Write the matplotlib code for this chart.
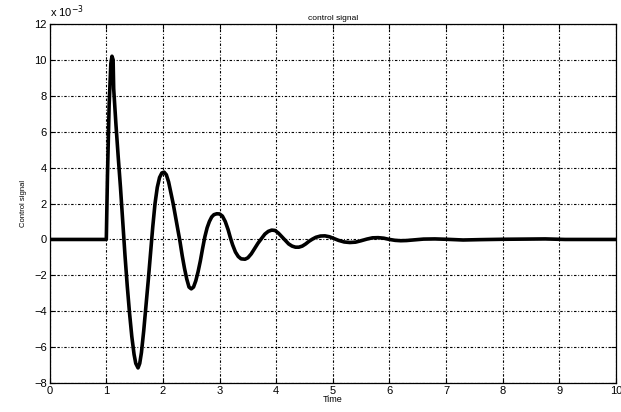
import matplotlib.pyplot as plt
import numpy as np

plt.rcParams['font.family'] = ['Liberation Sans', 'DejaVu Sans']

# control signal, in units of 1e-3
t = [0.0, 1.0, 1.02, 1.05, 1.08, 1.10, 1.12, 1.13, 1.17, 1.21, 1.25, 1.29,
     1.33, 1.37, 1.41, 1.45, 1.49, 1.52, 1.56, 1.59, 1.62, 1.66, 1.70, 1.74,
     1.78, 1.82, 1.86, 1.90, 1.94, 1.98, 2.02, 2.06, 2.10, 2.14, 2.18, 2.22,
     2.26, 2.30, 2.34, 2.38, 2.42, 2.46, 2.50, 2.54, 2.58, 2.62, 2.66, 2.70,
     2.74, 2.78, 2.82, 2.86, 2.90, 2.95, 3.00, 3.05, 3.10, 3.15, 3.19, 3.23,
     3.28, 3.33, 3.38, 3.45, 3.50, 3.56, 3.62, 3.68, 3.74, 3.80, 3.86, 3.92,
     3.98, 4.04, 4.10, 4.16, 4.22, 4.28, 4.34, 4.40, 4.46, 4.52, 4.58, 4.64,
     4.70, 4.78, 4.86, 4.94, 5.02, 5.10, 5.20, 5.30, 5.40, 5.50, 5.60, 5.70,
     5.80, 5.90, 6.00, 6.10, 6.20, 6.30, 6.45, 6.60, 6.80, 7.00, 7.30, 7.60,
     8.00, 8.40, 8.75, 9.10, 10.0]
u = [0.0, 0.0, 3.5, 7.5, 9.8, 10.2, 10.0, 8.4, 6.4, 4.6, 2.9, 1.0,
     -0.9, -2.6, -4.1, -5.4, -6.4, -6.9, -7.15, -6.9, -6.3, -5.1, -3.7, -2.3,
     -0.8, 0.7, 2.0, 2.9, 3.45, 3.7, 3.75, 3.6, 3.2, 2.6, 2.0, 1.3,
     0.6, -0.1, -0.9, -1.6, -2.2, -2.65, -2.75, -2.65, -2.3, -1.8, -1.2, -0.5,
     0.15, 0.65, 1.0, 1.25, 1.38, 1.43, 1.42, 1.3, 1.0, 0.55, 0.1, -0.3,
     -0.7, -0.95, -1.08, -1.1, -1.02, -0.8, -0.5, -0.2, 0.05, 0.3, 0.45, 0.52,
     0.5, 0.35, 0.15, -0.05, -0.25, -0.37, -0.43, -0.43, -0.37, -0.25, -0.1, 0.02,
     0.12, 0.19, 0.2, 0.15, 0.05, -0.05, -0.14, -0.17, -0.15, -0.07, 0.02, 0.09,
     0.1, 0.07, 0.0, -0.05, -0.07, -0.06, -0.02, 0.02, 0.03, 0.01, -0.03, -0.01,
     0.01, 0.02, 0.03, 0.0, 0.0]

xticks = np.arange(0, 11, 1)
yticks = np.arange(-8, 13, 2)

fig = plt.figure(figsize=(6.21, 4.12), dpi=100)
ax = fig.add_axes([0.080, 0.070, 0.912, 0.872])
ax.plot(t, u, color='black', lw=2.6, solid_joinstyle='round')

ax.set_xlim(0, 10)
ax.set_ylim(-8, 12)
ax.set_xticks(xticks)
ax.set_yticks(yticks)
ax.grid(True, color='black', lw=0.8, linestyle=(0, (2.2, 1.6, 0.8, 1.6)))
ax.tick_params(direction='in', length=3.5, width=0.8, labelsize=8,
               top=True, right=True, pad=2)
for s in ax.spines.values():
    s.set_linewidth(0.9)

ax.set_title('control signal', fontsize=6, pad=3)
ax.set_xlabel('Time', fontsize=6.5, labelpad=-1)
ax.set_ylabel('Control signal', fontsize=5.5, labelpad=5)
ax.text(0.0, 1.012, r'x 10$^{-3}$', transform=ax.transAxes, fontsize=8,
        ha='left', va='bottom')

fig.savefig('out.png', dpi=100)
